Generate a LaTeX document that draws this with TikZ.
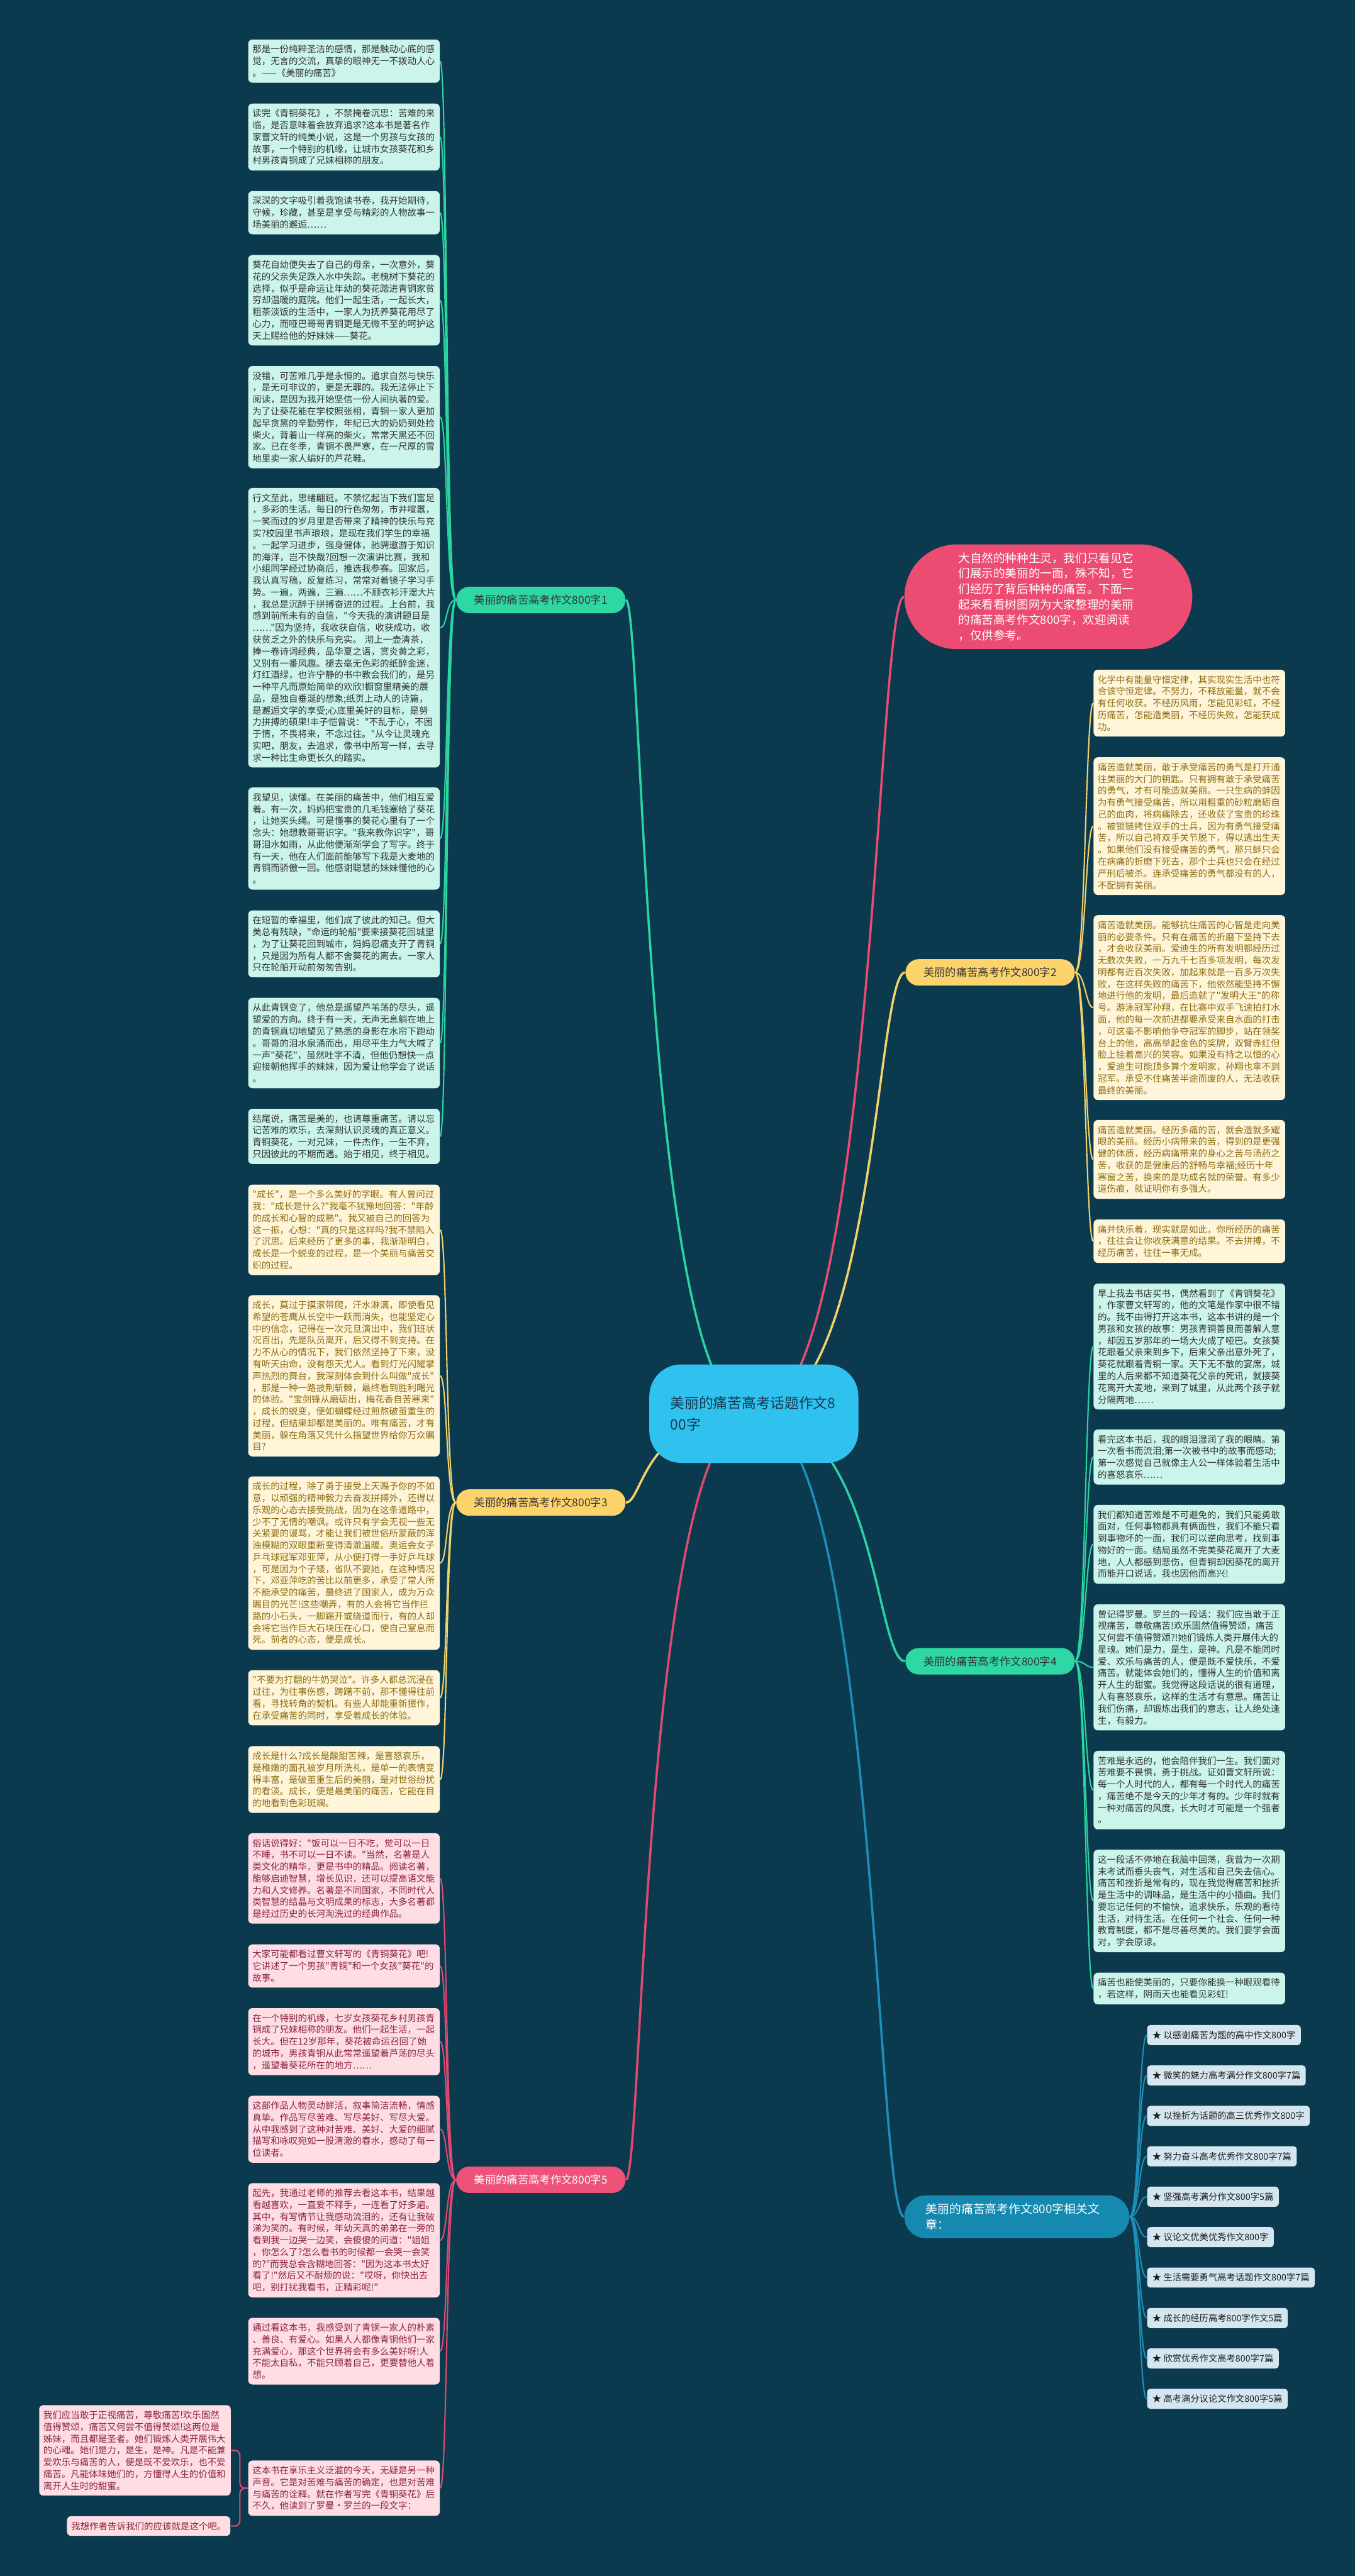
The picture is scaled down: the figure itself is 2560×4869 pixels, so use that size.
\documentclass[tikz,border=0pt]{standalone}
\usepackage{fontspec}
\setmainfont{Noto Sans CJK SC}[Ligatures=TeXOff]
\usepackage{tikz}
\usetikzlibrary{positioning}
\definecolor{bgcol}{HTML}{0B394D}
\definecolor{hubfill}{HTML}{2FC2EF}
\definecolor{hubtext}{HTML}{163A52}
\definecolor{greenfill}{HTML}{2ED7A3}
\definecolor{greenline}{HTML}{2BD5A0}
\definecolor{goldfill}{HTML}{FDD46C}
\definecolor{goldline}{HTML}{F3D26E}
\definecolor{rosefill}{HTML}{EE5279}
\definecolor{roseline}{HTML}{E04A72}
\definecolor{redfill}{HTML}{EC4B72}
\definecolor{bluefill}{HTML}{1689B1}
\definecolor{blueline}{HTML}{1E8FBA}
\definecolor{mintfill}{HTML}{CBF5EA}
\definecolor{minttext}{HTML}{333333}
\definecolor{creamfill}{HTML}{FFF6DA}
\definecolor{creamtext}{HTML}{8E6B12}
\definecolor{pinkfill}{HTML}{FFDDE5}
\definecolor{pinktext}{HTML}{8A2446}
\definecolor{itemfill}{HTML}{D4E7F0}
\definecolor{itemtext}{HTML}{1E1E1E}
\pgfdeclarelayer{back}
\pgfdeclarelayer{wires}
\pgfsetlayers{back,wires,main}
\tikzset{
    leaf/.style = {rectangle, rounded corners=0.8mm, text width=34.6mm, inner xsep=0.8mm, inner ysep=3pt, align=left, font=\fontsize{4.9pt}{6.35pt}\selectfont},
    mintleaf/.style = {leaf, fill=mintfill, text=minttext},
    creamleaf/.style = {leaf, fill=creamfill, text=creamtext},
    pinkleaf/.style = {leaf, fill=pinkfill, text=pinktext},
    topic/.style = {rectangle, rounded corners=2.5mm, minimum width=32mm, minimum height=5mm, inner sep=0pt, text centered, font=\fontsize{5.86pt}{7pt}\selectfont},
    linkitem/.style = {rectangle, rounded corners=0.6mm, anchor=west, minimum height=3.8mm, inner xsep=1mm, inner ysep=0pt, fill=itemfill, text=itemtext, font=\fontsize{4.84pt}{6pt}\selectfont}
}

\begin{document}
\begin{tikzpicture}[
    x=0.1mm,
    y=-0.1mm,
    trunk/.style={line width=0.42mm},
    twig/.style={line width=0.25mm},
    hub/.style={
        rectangle,
        rounded corners=6mm,
        minimum width=39.5mm,
        minimum height=18.6mm,
        text width=31.5mm,
        align=left,
        fill=hubfill,
        text=hubtext,
        font=\fontsize{7.68pt}{11.4pt}\selectfont
    },
    bignote/.style={
        rectangle,
        inner sep=0pt,
        align=left,
        text=white
    }
]
    \begin{pgfonlayer}{back}
        \fill[bgcol] (0,0) rectangle (2560,4869);
    \end{pgfonlayer}
    \useasboundingbox (0,0) rectangle (2560,4869);

    \node [hub] (ctr) at (1424.5,2672) {美丽的痛苦高考话题作文8\\00字};

    \node [topic, fill=greenfill, text=minttext] (b1) at (1022,1134) {美丽的痛苦高考作文800字1};
    \node [topic, fill=goldfill, text=minttext] (b3) at (1022,2840) {美丽的痛苦高考作文800字3};
    \node [topic, fill=rosefill, text=white] (b5) at (1022,4120) {美丽的痛苦高考作文800字5};
    \node [topic, fill=goldfill, text=minttext] (b2) at (1871,1838) {美丽的痛苦高考作文800字2};
    \node [topic, fill=greenfill, text=minttext] (b4) at (1871,3140) {美丽的痛苦高考作文800字4};

    \node [bignote, fill=redfill, rounded corners=9.9mm, minimum width=54.4mm, minimum height=19.8mm, text width=34mm, font=\fontsize{6.29pt}{8.34pt}\selectfont] (intro) at (1981,1128) {大自然的种种生灵，我们只看见它\\们展示的美丽的一面，殊不知，它\\们经历了背后种种的痛苦。下面一\\起来看看树图网为大家整理的美丽\\的痛苦高考作文800字，欢迎阅读\\，仅供参考。};
    \node [bignote, fill=bluefill, rounded corners=4.05mm, minimum width=42.5mm, minimum height=8.1mm, text width=34.4mm, font=\fontsize{6.37pt}{8.2pt}\selectfont] (links) at (1921.5,4190) {美丽的痛苦高考作文800字相关文\\章：};

    % branch 1
    \node [mintleaf] (ga1) at (650,115.5) {那是一份纯粹圣洁的感情，那是触动心底的感\\觉，无言的交流，真挚的眼神无一不拨动人心\\。——《美丽的痛苦》};
    \node [mintleaf] (ga2) at (650,259) {读完《青铜葵花》，不禁掩卷沉思：苦难的来\\临，是否意味着会放弃追求?这本书是著名作\\家曹文轩的纯美小说，这是一个男孩与女孩的\\故事，一个特别的机缘，让城市女孩葵花和乡\\村男孩青铜成了兄妹相称的朋友。};
    \node [mintleaf] (ga3) at (650,402) {深深的文字吸引着我饱读书卷，我开始期待，\\守候，珍藏，甚至是享受与精彩的人物故事一\\场美丽的邂逅……};
    \node [mintleaf] (ga4) at (650,567.5) {葵花自幼便失去了自己的母亲，一次意外，葵\\花的父亲失足跌入水中失踪。老槐树下葵花的\\选择，似乎是命运让年幼的葵花踏进青铜家贫\\穷却温暖的庭院。他们一起生活，一起长大，\\粗茶淡饭的生活中，一家人为抚养葵花用尽了\\心力，而哑巴哥哥青铜更是无微不至的呵护这\\天上赐给他的好妹妹——葵花。};
    \node [mintleaf] (ga5) at (650,788.5) {没错，可苦难几乎是永恒的。追求自然与快乐\\，是无可非议的，更是无罪的。我无法停止下\\阅读，是因为我开始坚信一份人间执著的爱。\\为了让葵花能在学校照张相，青铜一家人更加\\起早贪黑的辛勤劳作，年纪已大的奶奶到处捡\\柴火，背着山一样高的柴火，常常天黑还不回\\家。已在冬季，青铜不畏严寒，在一尺厚的雪\\地里卖一家人编好的芦花鞋。};
    \node [mintleaf] (ga6) at (650,1186.5) {行文至此，思绪翩跹。不禁忆起当下我们富足\\，多彩的生活。每日的行色匆匆，市井喧嚣，\\一笑而过的岁月里是否带来了精神的快乐与充\\实?校园里书声琅琅，是现在我们学生的幸福\\。一起学习进步，强身健体，驰骋遨游于知识\\的海洋，岂不快哉?回想一次演讲比赛，我和\\小组同学经过协商后，推选我参赛。回家后，\\我认真写稿，反复练习，常常对着镜子学习手\\势。一遍，两遍，三遍……不顾衣衫汗湿大片\\，我总是沉醉于拼搏奋进的过程。上台前，我\\感到前所未有的自信，"今天我的演讲题目是\\……"因为坚持，我收获自信，收获成功，收\\获贫乏之外的快乐与充实。 沏上一壶清茶，\\捧一卷诗词经典，品华夏之语，赏炎黄之彩，\\又别有一番风趣。褪去毫无色彩的纸醉金迷，\\灯红酒绿，也许宁静的书中教会我们的，是另\\一种平凡而原始简单的欢欣!橱窗里精美的展\\品，是独自垂涎的想象;纸页上动人的诗篇，\\是邂逅文学的享受;心底里美好的目标，是努\\力拼搏的硕果!丰子恺曾说："不乱于心，不困\\于情，不畏将来，不念过往。"从今让灵魂充\\实吧，朋友，去追求，像书中所写一样，去寻\\求一种比生命更长久的踏实。};
    \node [mintleaf] (ga7) at (650,1585) {我望见，读懂。在美丽的痛苦中，他们相互爱\\着。有一次，妈妈把宝贵的几毛钱塞给了葵花\\，让她买头绳。可是懂事的葵花心里有了一个\\念头：她想教哥哥识字。"我来教你识字"，哥\\哥泪水如雨，从此他便渐渐学会了写字。终于\\有一天，他在人们面前能够写下我是大麦地的\\青铜而骄傲一回。他感谢聪慧的妹妹懂他的心\\。};
    \node [mintleaf] (ga8) at (650,1784) {在短暂的幸福里，他们成了彼此的知己。但大\\美总有残缺，"命运的轮船"要来接葵花回城里\\，为了让葵花回到城市，妈妈忍痛支开了青铜\\，只是因为所有人都不舍葵花的离去。一家人\\只在轮船开动前匆匆告别。};
    \node [mintleaf] (ga9) at (650,1971.5) {从此青铜变了，他总是遥望芦苇荡的尽头，遥\\望爱的方向。终于有一天，无声无息躺在地上\\的青铜真切地望见了熟悉的身影在水帘下跑动\\。哥哥的泪水泉涌而出，用尽平生力气大喊了\\一声"葵花"，虽然吐字不清，但他仍想快一点\\迎接朝他挥手的妹妹，因为爱让他学会了说话\\。};
    \node [mintleaf] (ga10) at (650,2148) {结尾说，痛苦是美的，也请尊重痛苦。请以忘\\记苦难的欢乐，去深刻认识灵魂的真正意义。\\青铜葵花，一对兄妹，一件杰作，一生不弃，\\只因彼此的不期而遇。始于相见，终于相见。};

    % branch 3
    \node [creamleaf] (ya1) at (650,2324.5) {"成长"，是一个多么美好的字眼。有人曾问过\\我："成长是什么?"我毫不犹豫地回答："年龄\\的成长和心智的成熟"。我又被自己的回答为\\这一振，心想："真的只是这样吗?我不禁陷入\\了沉思。后来经历了更多的事，我渐渐明白，\\成长是一个蜕变的过程，是一个美丽与痛苦交\\织的过程。};
    \node [creamleaf] (ya2) at (650,2600.5) {成长，莫过于摸滚带爬，汗水淋漓，即使看见\\希望的苍鹰从长空中一跃而消失，也能坚定心\\中的信念，记得在一次元旦演出中，我们班状\\况百出，先是队员离开，后又得不到支持。在\\力不从心的情况下，我们依然坚持了下来，没\\有听天由命，没有怨天尤人。看到灯光闪耀掌\\声热烈的舞台，我深刻体会到什么叫做"成长"\\，那是一种一路披荆斩棘，最终看到胜利曙光\\的体验。"宝剑锋从磨砺出，梅花香自苦寒来"\\，成长的蜕变，便如蝴蝶经过煎熬破茧重生的\\过程，但结果却都是美丽的。唯有痛苦，才有\\美丽，躲在角落又凭什么指望世界给你万众瞩\\目?};
    \node [creamleaf] (ya3) at (650,2954.5) {成长的过程，除了勇于接受上天赐予你的不如\\意，以顽强的精神毅力去奋发拼搏外，还得以\\乐观的心态去接受挑战，因为在这条道路中，\\少不了无情的嘲讽。或许只有学会无视一些无\\关紧要的谩骂，才能让我们被世俗所蒙蔽的浑\\浊模糊的双眼重新变得清澈温暖。奥运会女子\\乒乓球冠军邓亚萍，从小便打得一手好乒乓球\\，可是因为个子矮，省队不要她，在这种情况\\下，邓亚萍吃的苦比以前更多，承受了常人所\\不能承受的痛苦，最终进了国家人，成为万众\\瞩目的光芒!这些嘲弄，有的人会将它当作拦\\路的小石头，一脚踢开或绕道而行，有的人却\\会将它当作巨大石块压在心口，使自己窒息而\\死。前者的心态，便是成长。};
    \node [creamleaf] (ya4) at (650,3209) {"不要为打翻的牛奶哭泣"。许多人都总沉浸在\\过往，为往事伤感，踌躇不前，那不懂得往前\\看，寻找转角的契机。有些人却能重新振作，\\在承受痛苦的同时，享受着成长的体验。};
    \node [creamleaf] (ya5) at (650,3363.5) {成长是什么?成长是酸甜苦辣，是喜怒哀乐，\\是稚嫩的面孔被岁月所洗礼，是单一的表情变\\得丰富，是破茧重生后的美丽，是对世俗纷扰\\的看淡。成长，便是最美丽的痛苦，它能在目\\的地看到色彩斑斓。};

    % branch 5
    \node [pinkleaf] (pk1) at (650,3550.5) {俗话说得好："饭可以一日不吃，觉可以一日\\不睡，书不可以一日不读。"当然，名著是人\\类文化的精华，更是书中的精品。阅读名著，\\能够启迪智慧，增长见识，还可以提高语文能\\力和人文修养。名著是不同国家，不同时代人\\类智慧的结晶与文明成果的标志，大多名著都\\是经过历史的长河淘洗过的经典作品。};
    \node [pinkleaf] (pk2) at (650,3716) {大家可能都看过曹文轩写的《青铜葵花》吧!\\它讲述了一个男孩"青铜"和一个女孩"葵花"的\\故事。};
    \node [pinkleaf] (pk3) at (650,3859) {在一个特别的机缘，七岁女孩葵花乡村男孩青\\铜成了兄妹相称的朋友。他们一起生活，一起\\长大。但在12岁那年，葵花被命运召回了她\\的城市，男孩青铜从此常常遥望着芦荡的尽头\\，遥望着葵花所在的地方……};
    \node [pinkleaf] (pk4) at (650,4024.5) {这部作品人物灵动鲜活，叙事简洁流畅，情感\\真挚。作品写尽苦难、写尽美好、写尽大爱。\\从中我感到了这种对苦难、美好、大爱的细腻\\描写和咏叹宛如一股清澈的春水，感动了每一\\位读者。};
    \node [pinkleaf] (pk5) at (650,4234.5) {起先，我通过老师的推荐去看这本书，结果越\\看越喜欢，一直爱不释手，一连看了好多遍。\\其中，有写情节让我感动流泪的，还有让我破\\涕为笑的。有时候，年幼天真的弟弟在一旁的\\看到我一边哭一边笑，会傻傻的问道："姐姐\\，你怎么了?怎么看书的时候都一会哭一会笑\\的?"而我总会含糊地回答："因为这本书太好\\看了!"然后又不耐烦的说："哎呀，你快出去\\吧，别打扰我看书，正精彩呢!"};
    \node [pinkleaf] (pk6) at (650,4444) {通过看这本书，我感受到了青铜一家人的朴素\\、善良、有爱心。如果人人都像青铜他们一家\\充满爱心，那这个世界将会有多么美好呀!人\\不能太自私，不能只顾着自己，更要替他人着\\想。};
    \node [pinkleaf] (pk7) at (650,4703) {这本书在享乐主义泛滥的今天，无疑是另一种\\声音。它是对苦难与痛苦的确定，也是对苦难\\与痛苦的诠释。就在作者写完《青铜葵花》后\\不久，他读到了罗曼·罗兰的一段文字：};
    \node [pinkleaf] (pk8) at (255,4631.5) {我们应当敢于正视痛苦，尊敬痛苦!欢乐固然\\值得赞颂，痛苦又何尝不值得赞颂!这两位是\\姊妹，而且都是圣者。她们锻炼人类开展伟大\\的心魂。她们是力，是生，是神。凡是不能兼\\爱欢乐与痛苦的人，便是既不爱欢乐，也不爱\\痛苦。凡能体味她们的，方懂得人生的价值和\\离开人生时的甜蜜。};
    \node [pinkleaf, text width=, anchor=east] (pk9) at (436,4774.5) {我想作者告诉我们的应该就是这个吧。};

    % branch 2
    \node [creamleaf] (yb1) at (2247.5,1329) {化学中有能量守恒定律，其实现实生活中也符\\合该守恒定律。不努力，不释放能量，就不会\\有任何收获。不经历风雨，怎能见彩虹，不经\\历痛苦，怎能造美丽，不经历失败，怎能获成\\功。};
    \node [creamleaf] (yb2) at (2247.5,1561.5) {痛苦造就美丽，敢于承受痛苦的勇气是打开通\\往美丽的大门的钥匙。只有拥有敢于承受痛苦\\的勇气，才有可能造就美丽。一只生病的蚌因\\为有勇气接受痛苦，所以用粗重的砂粒磨砺自\\己的血肉，将病痛除去，还收获了宝贵的珍珠\\。被锁链拷住双手的士兵，因为有勇气接受痛\\苦，所以自己将双手关节脱下，得以逃出生天\\。如果他们没有接受痛苦的勇气，那只蚌只会\\在病痛的折磨下死去，那个士兵也只会在经过\\严刑后被杀。连承受痛苦的勇气都没有的人，\\不配拥有美丽。};
    \node [creamleaf] (yb3) at (2247.5,1904.5) {痛苦造就美丽。能够抗住痛苦的心智是走向美\\丽的必要条件。只有在痛苦的折磨下坚持下去\\，才会收获美丽。爱迪生的所有发明都经历过\\无数次失败，一万九千七百多项发明，每次发\\明都有近百次失败，加起来就是一百多万次失\\败，在这样失败的痛苦下，他依然能坚持不懈\\地进行他的发明，最后造就了"发明大王"的称\\号。游泳冠军孙翔，在比赛中双手飞速拍打水\\面，他的每一次前进都要承受来自水面的打击\\，可这毫不影响他争夺冠军的脚步，站在领奖\\台上的他，高高举起金色的奖牌，双臂赤红但\\脸上挂着高兴的笑容。如果没有持之以恒的心\\，爱迪生可能顶多算个发明家，孙翔也拿不到\\冠军。承受不住痛苦半途而废的人，无法收获\\最终的美丽。};
    \node [creamleaf] (yb4) at (2247.5,2191.5) {痛苦造就美丽。经历多痛的苦，就会造就多耀\\眼的美丽。经历小病带来的苦，得到的是更强\\健的体质，经历病痛带来的身心之苦与汤药之\\苦，收获的是健康后的舒畅与幸福;经历十年\\寒窗之苦，换来的是功成名就的荣誉。有多少\\道伤痕，就证明你有多强大。};
    \node [creamleaf] (yb5) at (2247.5,2346) {痛并快乐着，现实就是如此，你所经历的痛苦\\，往往会让你收获满意的结果。不去拼搏，不\\经历痛苦，往往一事无成。};

    % branch 4
    \node [mintleaf] (gb1) at (2247.5,2545) {早上我去书店买书，偶然看到了《青铜葵花》\\，作家曹文轩写的，他的文笔是作家中很不错\\的。我不由得打开这本书，这本书讲的是一个\\男孩和女孩的故事：男孩青铜善良而善解人意\\，却因五岁那年的一场大火成了哑巴。女孩葵\\花跟着父亲来到乡下，后来父亲出意外死了，\\葵花就跟着青铜一家。天下无不散的宴席，城\\里的人后来都不知道葵花父亲的死讯，就接葵\\花离开大麦地，来到了城里，从此两个孩子就\\分隔两地……};
    \node [mintleaf] (gb2) at (2247.5,2754) {看完这本书后，我的眼泪湿润了我的眼睛。第\\一次看书而流泪;第一次被书中的故事而感动;\\第一次感觉自己就像主人公一样体验着生活中\\的喜怒哀乐……};
    \node [mintleaf] (gb3) at (2247.5,2919) {我们都知道苦难是不可避免的，我们只能勇敢\\面对，任何事物都具有俩面性，我们不能只看\\到事物坏的一面，我们可以逆向思考，找到事\\物好的一面。结局虽然不完美葵花离开了大麦\\地，人人都感到悲伤，但青铜却因葵花的离开\\而能开口说话，我也因他而高兴!};
    \node [mintleaf] (gb4) at (2247.5,3151.5) {曾记得罗曼。罗兰的一段话：我们应当敢于正\\视痛苦，尊敬痛苦!欢乐固然值得赞颂，痛苦\\又何尝不值得赞颂?!她们锻炼人类开展伟大的\\星魂。她们是力，是生，是神。凡是不能同时\\爱、欢乐与痛苦的人，便是既不爱快乐，不爱\\痛苦。就能体会她们的，懂得人生的价值和离\\开人生的甜蜜。我觉得这段话说的很有道理，\\人有喜怒哀乐，这样的生活才有意思。痛苦让\\我们伤痛，却锻炼出我们的意志，让人绝处逢\\生，有毅力。};
    \node [mintleaf] (gb5) at (2247.5,3383.5) {苦难是永远的，他会陪伴我们一生。我们面对\\苦难要不畏惧，勇于挑战。证如曹文轩所说：\\每一个人时代的人，都有每一个时代人的痛苦\\，痛苦绝不是今天的少年才有的。少年时就有\\一种对痛苦的风度，长大时才可能是一个强者\\。};
    \node [mintleaf] (gb6) at (2247.5,3593) {这一段话不停地在我脑中回荡，我曾为一次期\\末考试而垂头丧气，对生活和自己失去信心。\\痛苦和挫折是常有的，现在我觉得痛苦和挫折\\是生活中的调味品，是生活中的小插曲。我们\\要忘记任何的不愉快，追求快乐，乐观的看待\\生活，对待生活。在任何一个社会、任何一种\\教育制度，都不是尽善尽美的。我们要学会面\\对，学会原谅。};
    \node [mintleaf] (gb7) at (2247.5,3758.5) {痛苦也能使美丽的，只要你能换一种眼观看待\\，若这样，阴雨天也能看见彩虹!};

    % related articles
    \foreach \t [count=\k from 0] in {{以感谢痛苦为题的高中作文800字}, {微笑的魅力高考满分作文800字7篇}, {以挫折为话题的高三优秀作文800字}, {努力奋斗高考优秀作文800字7篇}, {坚强高考满分作文800字5篇}, {议论文优美优秀作文800字}, {生活需要勇气高考话题作文800字7篇}, {成长的经历高考800字作文5篇}, {欣赏优秀作文高考800字7篇}, {高考满分议论文作文800字5篇}}
        \node [linkitem] (art\k) at (2167,{3846.5+76.4*\k}) {★ \t};

    \begin{pgfonlayer}{wires}
        \draw [trunk, greenline] (ctr.center) .. controls (1215,2672) and (1215,1134) .. (b1.east);
        \draw [trunk, goldline] (ctr.center) .. controls (1215,2672) and (1215,2840) .. (b3.east);
        \draw [trunk, roseline] (ctr.center) .. controls (1215,2672) and (1215,4120) .. (b5.east);
        \draw [trunk, redfill] (ctr.center) .. controls (1655,2672) and (1655,1128) .. (intro.west);
        \draw [trunk, goldline] (ctr.center) .. controls (1655,2672) and (1655,1838) .. (b2.west);
        \draw [trunk, greenline] (ctr.center) .. controls (1655,2672) and (1655,3140) .. (b4.west);
        \draw [trunk, blueline] (ctr.center) .. controls (1655,2672) and (1655,4190) .. (links.west);

        \foreach \i in {1,...,10}
            \draw [twig, greenline] (b1.west) .. controls +(-19,0) and +(14,0) .. (ga\i.east);
        \foreach \i in {1,...,5}
            \draw [twig, goldline] (b3.west) .. controls +(-19,0) and +(14,0) .. (ya\i.east);
        \foreach \i in {1,...,7}
            \draw [twig, roseline] (b5.west) .. controls +(-19,0) and +(14,0) .. (pk\i.east);
        \foreach \i in {1,...,5}
            \draw [twig, goldline] (b2.east) .. controls +(19,0) and +(-14,0) .. (yb\i.west);
        \foreach \i in {1,...,7}
            \draw [twig, greenline] (b4.east) .. controls +(19,0) and +(-14,0) .. (gb\i.west);
        \foreach \k in {0,...,9}
            \draw [twig, blueline] (links.east) .. controls +(18,0) and +(-15,0) .. (art\k.west);

        \draw [twig, roseline, rounded corners=1mm] (pk7.west) -- ++(-15,0) |- (pk8.east);
        \draw [twig, roseline, rounded corners=1mm] (pk7.west) -- ++(-15,0) |- (pk9.east);
    \end{pgfonlayer}
\end{tikzpicture}
\end{document}
